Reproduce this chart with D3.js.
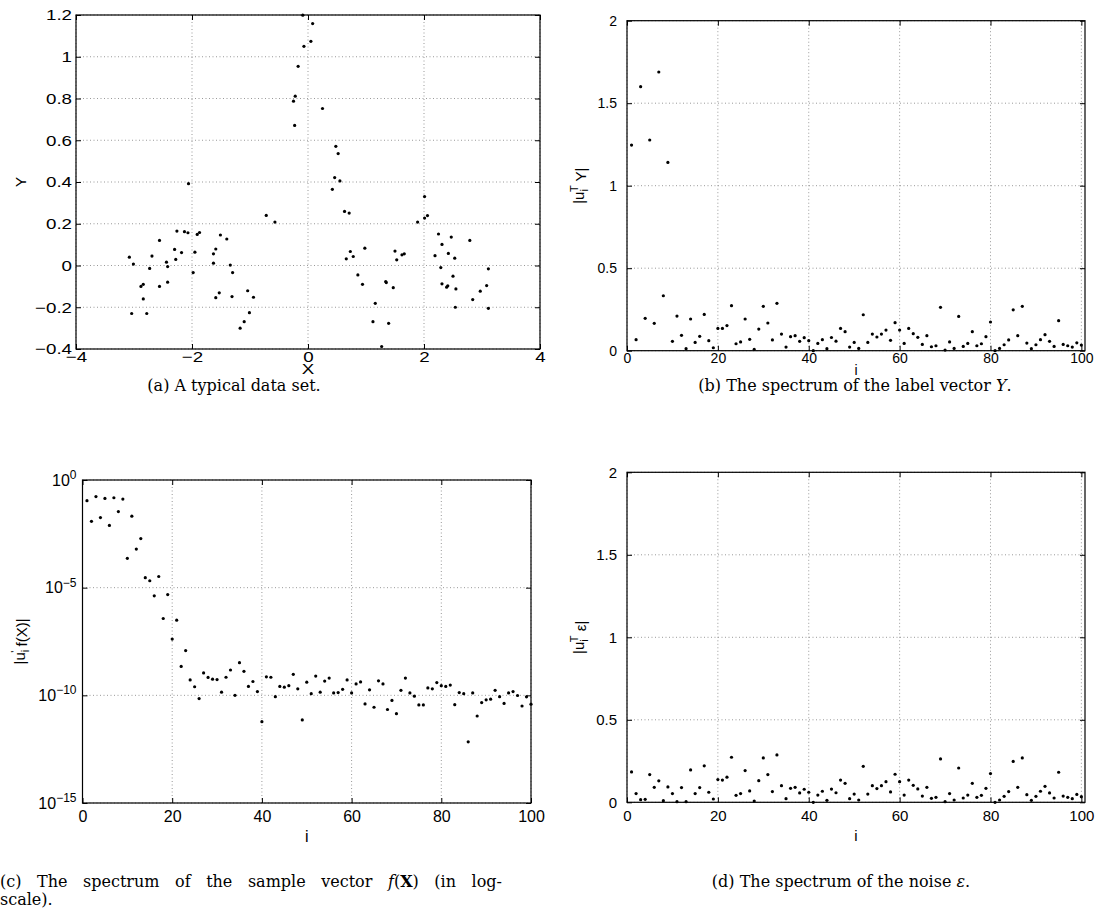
<!DOCTYPE html>
<html>
<head>
<meta charset="utf-8">
<script src="https://cdn.jsdelivr.net/npm/d3@7"></script>
<style>
  body { margin: 0; background: #fff; }
  svg text { font-family: "Liberation Sans", Arial, sans-serif; fill: #000; }
  .tick line { stroke: #000; }
  .domain { display: none; }
  .grid line { stroke: #999; stroke-dasharray: 1,2.5; }
  .frame { fill: none; stroke: #000; stroke-width: 1.2; }
  .caption { font-family: "DejaVu Serif", "Liberation Serif", serif; font-size: 16px; }
</style>
</head>
<body>
<svg id="fig" width="1100" height="911"></svg>
<script>

// (a) data set: sample locations and labels
var dataX = [-3.08, -3.01, -3.04, -2.88, -2.84, -2.84, -2.78, -2.73, -2.69, -2.56,
  -2.56, -2.44, -2.42, -2.42, -2.30, -2.28, -2.26, -2.18, -2.13, -2.07,
  -2.06, -1.98, -1.95, -1.91, -1.87, -1.63, -1.63, -1.59, -1.59, -1.53,
  -1.51, -1.40, -1.34, -1.30, -1.31, -1.04, -1.01, -0.94, -1.10, -1.17,
  -0.72, -0.57, -0.23, -0.25, -0.22, -0.17, -0.09, 0.08, -0.07, 0.05,
  0.25, 0.48, 0.52, 0.46, 0.55, 0.42, 0.63, 0.71, 0.98, 0.73,
  0.66, 0.78, 0.86, 0.94, 1.16, 1.12, 1.39, 1.50, 1.53, 1.62,
  1.66, 1.34, 1.35, 1.47, 1.27, 2.01, 1.89, 2.01, 2.06, 2.25,
  2.31, 2.47, 2.79, 2.19, 2.42, 2.53, 2.29, 2.50, 2.31, 2.39,
  2.41, 2.55, 2.54, 3.11, 3.08, 2.97, 2.84, 3.11];
var dataY = [0.04, 0.007, -0.23, -0.10, -0.09, -0.16, -0.23, -0.014, 0.045, 0.12,
  -0.10, 0.016, -0.005, -0.08, 0.077, 0.029, 0.165, 0.062, 0.162, 0.157,
  0.392, -0.034, 0.064, 0.149, 0.158, 0.011, 0.056, 0.079, -0.154, -0.131,
  0.146, 0.127, 0.002, -0.034, -0.149, -0.121, -0.226, -0.152, -0.269, -0.30,
  0.24, 0.208, 0.671, 0.787, 0.811, 0.954, 1.199, 1.159, 1.05, 1.074,
  0.752, 0.571, 0.536, 0.421, 0.405, 0.365, 0.259, 0.251, 0.083, 0.067,
  0.032, 0.043, -0.045, -0.09, -0.181, -0.269, -0.277, 0.069, 0.027, 0.051,
  0.056, -0.077, -0.082, -0.106, -0.388, 0.33, 0.208, 0.227, 0.239, 0.151,
  0.101, 0.136, 0.12, 0.047, 0.058, 0.035, -0.01, -0.051, -0.088, -0.104,
  -0.097, -0.112, -0.20, -0.016, -0.096, -0.123, -0.163, -0.205];

// index i = 1..100
var indices = d3.range(1, 101);

// (b) |u_i^T Y|
var labelSpectrum = [1.246, 0.067, 1.60, 0.196, 1.277, 0.166, 1.689, 0.333, 1.141, 0.057,
  0.21, 0.093, 0.012, 0.192, 0.05, 0.087, 0.22, 0.061, 0.018, 0.135,
  0.135, 0.152, 0.273, 0.042, 0.053, 0.192, 0.069, 0.008, 0.131, 0.269,
  0.168, 0.065, 0.287, 0.101, 0.022, 0.085, 0.091, 0.057, 0.079, 0.061,
  0.0, 0.044, 0.067, 0.012, 0.080, 0.058, 0.135, 0.115, 0.022, 0.05,
  0.014, 0.218, 0.05, 0.101, 0.083, 0.101, 0.125, 0.063, 0.17, 0.125,
  0.044, 0.135, 0.103, 0.081, 0.038, 0.091, 0.024, 0.03, 0.263, 0.004,
  0.053, 0.014, 0.208, 0.026, 0.044, 0.115, 0.03, 0.042, 0.085, 0.174,
  0.0, 0.014, 0.036, 0.065, 0.248, 0.091, 0.269, 0.046, 0.012, 0.036,
  0.067, 0.097, 0.057, 0.026, 0.182, 0.038, 0.03, 0.022, 0.048, 0.034];

// (c) |u_i' f(X)|  (log scale)
var sampleSpectrum = [1.1e-1, 1.2e-2, 1.7e-1, 1.8e-2, 1.4e-1, 7.8e-3, 1.5e-1, 3.4e-2, 1.3e-1, 2.3e-4,
  2.1e-2, 6.2e-4, 1.9e-3, 2.9e-5, 2.1e-5, 4.2e-6, 3.3e-5, 3.7e-7, 4.8e-6, 4.1e-8,
  3.1e-7, 2.2e-9, 1.2e-8, 5.2e-10, 2.5e-10, 7.1e-11, 1.1e-9, 6.8e-10, 5.6e-10, 5.4e-10,
  1.4e-10, 6.9e-10, 1.5e-9, 1.0e-10, 3.3e-9, 1.3e-9, 2.6e-10, 4.4e-10, 1.5e-10, 6.0e-12,
  7.2e-10, 6.9e-10, 8.7e-11, 2.6e-10, 2.4e-10, 2.8e-10, 9.5e-10, 2.0e-10, 7.2e-12, 4.1e-10,
  1.2e-10, 7.8e-10, 1.4e-10, 4.6e-10, 6.3e-10, 1.3e-10, 1.35e-10, 1.9e-10, 5.2e-10, 1.3e-10,
  3.4e-10, 4.2e-10, 4.0e-11, 1.8e-10, 2.8e-11, 4.7e-10, 3.4e-10, 2.2e-11, 5.8e-11, 1.4e-11,
  1.7e-10, 6.3e-10, 1.3e-10, 9.1e-11, 3.6e-11, 3.6e-11, 2.2e-10, 2.0e-10, 3.9e-10, 2.8e-10,
  2.6e-10, 3.0e-10, 3.7e-11, 1.35e-10, 1.2e-10, 6.9e-13, 1.3e-10, 1.1e-11, 4.6e-11, 6.2e-11,
  6.6e-11, 1.7e-10, 8.7e-11, 4.2e-11, 1.3e-10, 1.5e-10, 9.8e-11, 3.2e-11, 8.5e-11, 3.9e-11];

// (d) |u_i^T eps|
var noiseSpectrum = [0.184, 0.053, 0.016, 0.018, 0.168, 0.091, 0.13, 0.01, 0.093, 0.053,
  0.004, 0.089, 0.004, 0.196, 0.053, 0.089, 0.221, 0.061, 0.02, 0.138,
  0.135, 0.152, 0.273, 0.042, 0.053, 0.192, 0.069, 0.008, 0.131, 0.269,
  0.168, 0.065, 0.287, 0.101, 0.022, 0.085, 0.091, 0.057, 0.079, 0.061,
  0.0, 0.044, 0.067, 0.012, 0.080, 0.058, 0.135, 0.115, 0.022, 0.05,
  0.014, 0.218, 0.05, 0.101, 0.083, 0.101, 0.125, 0.063, 0.17, 0.125,
  0.044, 0.135, 0.103, 0.081, 0.038, 0.091, 0.024, 0.03, 0.263, 0.004,
  0.053, 0.014, 0.208, 0.026, 0.044, 0.115, 0.03, 0.042, 0.085, 0.174,
  0.0, 0.014, 0.036, 0.065, 0.248, 0.091, 0.269, 0.046, 0.012, 0.036,
  0.067, 0.097, 0.057, 0.026, 0.182, 0.038, 0.03, 0.022, 0.048, 0.034];

// tick values
var xTicksA = [-4, -2, 0, 2, 4];
var yTicksA = [-0.4, -0.2, 0, 0.2, 0.4, 0.6, 0.8, 1, 1.2];
var xTicksI = [0, 20, 40, 60, 80, 100];
var yTicksSpec = [0, 0.5, 1, 1.5, 2];
var yTicksLog = [1e-15, 1e-10, 1e-5, 1];

var svg = d3.select("#fig");
var fmt = d3.format("~g");

function drawPanel(p) {
  var g = svg.append("g")
    .attr("transform", `translate(${p.left}, ${p.top})`);

  var x = d3.scaleLinear().domain(p.xDomain).range([0, p.width]);
  var y = (p.log ? d3.scaleLog() : d3.scaleLinear())
    .domain(p.yDomain).range([p.height, 0]);

  // dotted grid
  var grid = g.append("g").attr("class", "grid");
  grid.selectAll(".gx").data(p.xTicks).enter().append("line")
    .attr("x1", d => x(d)).attr("x2", d => x(d))
    .attr("y1", 0).attr("y2", p.height);
  grid.selectAll(".gy").data(p.yTicks).enter().append("line")
    .attr("x1", 0).attr("x2", p.width)
    .attr("y1", d => y(d)).attr("y2", d => y(d));

  // points
  g.append("g").selectAll("circle")
    .data(p.xs)
    .enter()
    .append("circle")
    .attr("cx", d => x(d))
    .attr("cy", (d, k) => y(p.ys[k]))
    .attr("r", 1.6)
    .attr("fill", "#000");

  // axes, ticks pointing inward on all four sides
  var bottom = g.append("g")
    .attr("transform", `translate(0, ${p.height})`)
    .call(d3.axisBottom(x).tickValues(p.xTicks).tickSizeInner(-5).tickSizeOuter(0)
      .tickPadding(p.xPad).tickFormat(fmt));
  g.append("g")
    .call(d3.axisTop(x).tickValues(p.xTicks).tickSizeInner(-5).tickSizeOuter(0).tickFormat(""));
  var left = g.append("g")
    .call(d3.axisLeft(y).tickValues(p.yTicks).tickSizeInner(-5).tickSizeOuter(0)
      .tickPadding(p.yPad).tickFormat(p.log ? "" : fmt));
  g.append("g")
    .attr("transform", `translate(${p.width}, 0)`)
    .call(d3.axisRight(y).tickValues(p.yTicks).tickSizeInner(-5).tickSizeOuter(0).tickFormat(""));

  bottom.selectAll(".tick text").attr("font-size", p.font + "px");
  left.selectAll(".tick text").attr("font-size", p.font + "px");

  // panel (a) was stretched sideways in the original figure
  if (p.stretch) {
    bottom.selectAll(".tick text").attr("transform", `scale(${p.stretch}, 1)`);
    left.selectAll(".tick text").attr("transform", `scale(${p.stretch}, 1)`)
      .attr("x", -p.yPad / p.stretch);
  }

  if (p.log) {
    left.selectAll(".tick text").each(function (d) {
      var e = Math.round(Math.log10(d));
      var t = d3.select(this).text("10");
      t.append("tspan").attr("dy", "-0.55em").attr("font-size", (p.font - 4) + "px")
        .text(e === 0 ? "0" : "\u2212" + Math.abs(e));
    });
  }

  g.append("rect").attr("class", "frame")
    .attr("width", p.width).attr("height", p.height);

  // axis labels
  var xl = g.append("text")
    .attr("font-size", p.font + "px")
    .attr("text-anchor", "middle")
    .text(p.xLabel);
  if (p.stretch) {
    xl.attr("transform", `translate(${p.width / 2}, ${p.height + p.xLabelDy}) scale(${p.stretch}, 1)`);
  } else {
    xl.attr("x", p.width / 2).attr("y", p.height + p.xLabelDy);
  }

  var yl = g.append("text")
    .attr("font-size", p.labelFont + "px")
    .attr("transform", `translate(${p.yLabelX}, ${p.height / 2}) rotate(-90)`)
    .attr("text-anchor", "middle")
    .attr("dy", "0.35em");
  p.yLabel.forEach(function (part) {
    var ts = yl.append("tspan").text(part.t);
    if (part.dy) ts.attr("dy", part.dy);
    if (part.dx) ts.attr("dx", part.dx);
    if (part.small) ts.attr("font-size", (p.labelFont - 4) + "px");
  });
}

// (a) A typical data set
drawPanel({
  left: 76, top: 15, width: 464, height: 334,
  xDomain: [-4, 4], yDomain: [-0.4, 1.2],
  xTicks: xTicksA, yTicks: yTicksA,
  xs: dataX, ys: dataY,
  font: 15, labelFont: 15, stretch: 1.25,
  xPad: 2, yPad: 4,
  xLabel: "X", xLabelDy: 25, yLabelX: -55,
  yLabel: [{ t: "Y" }]
});

// (b) spectrum of label vector
drawPanel({
  left: 627, top: 20.7, width: 458, height: 330,
  xDomain: [0, 100.8], yDomain: [0, 2],
  xTicks: xTicksI, yTicks: yTicksSpec,
  xs: indices, ys: labelSpectrum,
  font: 14, labelFont: 15, xPad: 2, yPad: 10,
  xLabel: "i", xLabelDy: 24, yLabelX: -48,
  yLabel: [{ t: "|u" }, { t: "i", dy: "0.35em", small: true },
    { t: "T", dy: "-0.9em", dx: "-3", small: true }, { t: " Y|", dy: "0.55em" }]
});

// (c) spectrum of sample vector, log scale
drawPanel({
  left: 82.5, top: 480, width: 448.5, height: 323,
  xDomain: [0, 100], yDomain: [1e-15, 1], log: true,
  xTicks: xTicksI, yTicks: yTicksLog,
  xs: indices, ys: sampleSpectrum,
  font: 16, labelFont: 15, xPad: 8, yPad: 6,
  xLabel: "i", xLabelDy: 39, yLabelX: -63,
  yLabel: [{ t: "|u" }, { t: "i", dy: "0.35em", small: true },
    { t: "'", dy: "-0.9em", dx: "-3", small: true }, { t: " f(X)|", dy: "0.55em" }]
});

// (d) spectrum of the noise
drawPanel({
  left: 627, top: 472.3, width: 458, height: 330,
  xDomain: [0, 100.8], yDomain: [0, 2],
  xTicks: xTicksI, yTicks: yTicksSpec,
  xs: indices, ys: noiseSpectrum,
  font: 15, labelFont: 15, xPad: 8, yPad: 10,
  xLabel: "i", xLabelDy: 39, yLabelX: -48,
  yLabel: [{ t: "|u" }, { t: "i", dy: "0.35em", small: true },
    { t: "T", dy: "-0.9em", dx: "-3", small: true }, { t: " \u03b5|", dy: "0.55em" }]
});

// captions
function caption(x, y, parts, anchor, fill) {
  var t = svg.append("text")
    .attr("class", "caption")
    .attr("x", x).attr("y", y)
    .attr("text-anchor", anchor || "middle");
  parts.forEach(function (part) {
    var ts = t.append("tspan").text(part.t);
    if (part.i) ts.attr("font-style", "italic");
    if (part.b) ts.attr("font-weight", "bold");
  });
  // justified line: widen the word gaps to fill the width
  if (fill) {
    var gaps = t.text().split(" ").length - 1;
    var natural = t.node().getComputedTextLength();
    t.attr("word-spacing", Math.max(0, (fill - natural) / gaps));
  }
}

caption(234, 391, [{ t: "(a) A typical data set." }]);
caption(855, 391, [{ t: "(b) The spectrum of the label vector " }, { t: "Y", i: true }, { t: "." }]);
caption(0, 887, [{ t: "(c) The spectrum of the sample vector " }, { t: "f", i: true },
  { t: "(" }, { t: "X", b: true }, { t: ") (in log-" }], "start", 502);
caption(0, 905, [{ t: "scale)." }], "start");
caption(841, 887, [{ t: "(d) The spectrum of the noise " }, { t: "\u03b5", i: true }, { t: "." }]);

</script>
</body>
</html>
